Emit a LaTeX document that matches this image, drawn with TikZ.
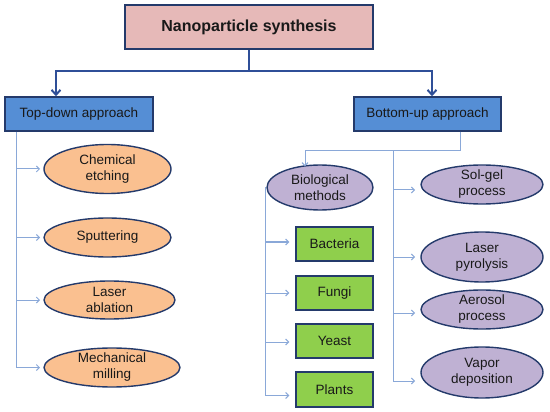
\documentclass[tikz,border=0pt]{standalone}
\usepackage{fontspec}
\setmainfont{Liberation Sans}
\usetikzlibrary{shapes.geometric,arrows.meta,calc}
\definecolor{pinkf}{HTML}{E6B9B8}
\definecolor{bluef}{HTML}{558ED5}
\definecolor{orangef}{HTML}{FAC090}
\definecolor{purplef}{HTML}{BFB1D3}
\definecolor{greenf}{HTML}{8FCF4C}
\definecolor{edgec}{HTML}{243A6B}
\definecolor{trunkc}{HTML}{2F4F98}
\definecolor{branchc}{HTML}{8AA8D8}
\begin{document}
\begin{tikzpicture}[x=1pt,y=-1pt,
  box/.style={draw=edgec, line width=1.4pt, rectangle, inner sep=0pt,
    font=\fontsize{13.5}{16}\selectfont, text=black!90},
  oval/.style={draw=edgec, line width=1.4pt, ellipse, inner sep=0pt},
  txt/.style={align=center, font=\fontsize{13.5}{16}\selectfont, inner sep=0pt, text=black!90},
  mainln/.style={draw=trunkc, line width=2pt},
  mainarr/.style={mainln, -{Straight Barb[length=5pt,width=9pt]}},
  br/.style={draw=branchc, line width=1pt},
  brarr/.style={br, -{Straight Barb[length=3pt,width=6pt]}}]
\useasboundingbox (0,0) rectangle (550,412);

% boxes
\node[box, fill=pinkf, minimum width=248pt, minimum height=44pt,
  font=\fontsize{16}{19}\selectfont\bfseries] (top) at (249,27) {Nanoparticle synthesis};
\node[box, fill=bluef, minimum width=148pt, minimum height=34pt] (TD) at (79,114) {Top-down approach};
\node[box, fill=bluef, minimum width=147pt, minimum height=34pt] (BU) at (427.5,114) {Bottom-up approach};

% top-down ellipses
\node[oval, fill=orangef, minimum width=127pt, minimum height=49pt,
  label={[txt]center:{Chemical\\etching}}] (ce) at (107.5,169) {};
\node[oval, fill=orangef, minimum width=127pt, minimum height=39pt,
  label={[txt]center:{Sputtering}}] (sp) at (107.5,237.5) {};
\node[oval, fill=orangef, minimum width=131pt, minimum height=38pt,
  label={[txt]center:{Laser\\ablation}}] (la) at (109.5,300) {};
\node[oval, fill=orangef, minimum width=136pt, minimum height=39pt,
  label={[txt]center:{Mechanical\\milling}}] (mm) at (112,367.5) {};

% biological
\node[oval, fill=purplef, minimum width=106pt, minimum height=45pt,
  label={[txt]center:{Biological\\methods}}] (bio) at (320,187.5) {};
\node[box, fill=greenf, minimum width=77pt, minimum height=34pt] (ba) at (334.5,244) {Bacteria};
\node[box, fill=greenf, minimum width=77pt, minimum height=34pt] (fu) at (334.5,293) {Fungi};
\node[box, fill=greenf, minimum width=77pt, minimum height=34pt] (ye) at (334.5,341) {Yeast};
\node[box, fill=greenf, minimum width=77pt, minimum height=35pt] (pl) at (334.5,389.5) {Plants};

% right ellipses
\node[oval, fill=purplef, minimum width=122pt, minimum height=39pt,
  label={[txt]center:{Sol-gel\\process}}] (sg) at (482,184.5) {};
\node[oval, fill=purplef, minimum width=122pt, minimum height=50pt,
  label={[txt]center:{Laser\\pyrolysis}}] (lp) at (482,257) {};
\node[oval, fill=purplef, minimum width=122pt, minimum height=39pt,
  label={[txt]center:{Aerosol\\process}}] (ap) at (482,309.5) {};
\node[oval, fill=purplef, minimum width=122pt, minimum height=51pt,
  label={[txt]center:{Vapor\\deposition}}] (vd) at (482,372.5) {};

% trunk
\coordinate (j) at (top.south |- 0,71);
\draw[mainln] (top.south) -- (j);
\draw[mainarr] (j) -| ([xshift=-23pt]TD.north);
\draw[mainarr] (j) -| ([xshift=4.5pt]BU.north);

% top-down branches
\path ([xshift=-63pt]TD.south) coordinate (L);
\draw[br] (L) -- (L |- mm.west);
\foreach \n in {ce,sp,la,mm} \draw[brarr] (L |- \n.west) -- ++(24,0);

% bottom-up branches
\path ([xshift=32.5pt]BU.south) coordinate (r0);
\coordinate (r1) at (r0 |- 0,151);
\path ([xshift=-15pt]bio.north) coordinate (bn);
\draw[br] (r0) -- (r1) -- (bn |- r1);
\draw[brarr] (bn |- r1) -- ([yshift=-2pt]bn);
\path ([xshift=-67pt]r1) coordinate (R);
\draw[br] (R) -- ($(R |- vd.west)+(0,8.5)$);
\foreach \n/\d in {sg/5.5,lp/0,ap/3.5,vd/8.5}
  \draw[brarr] ($(R |- \n.west)+(0,\d)$) -- ++(22,0);

% biological branches
\path ([xshift=-1pt]bio.west) coordinate (B);
\draw[br] (B) -- ($(B |- pl.west)+(0,6)$);
\foreach \n/\d in {ba/-2,fu/0,ye/1,pl/6}
  \draw[brarr] ($(B |- \n.west)+(0,\d)$) -- ++(24,0);
\end{tikzpicture}
\end{document}
